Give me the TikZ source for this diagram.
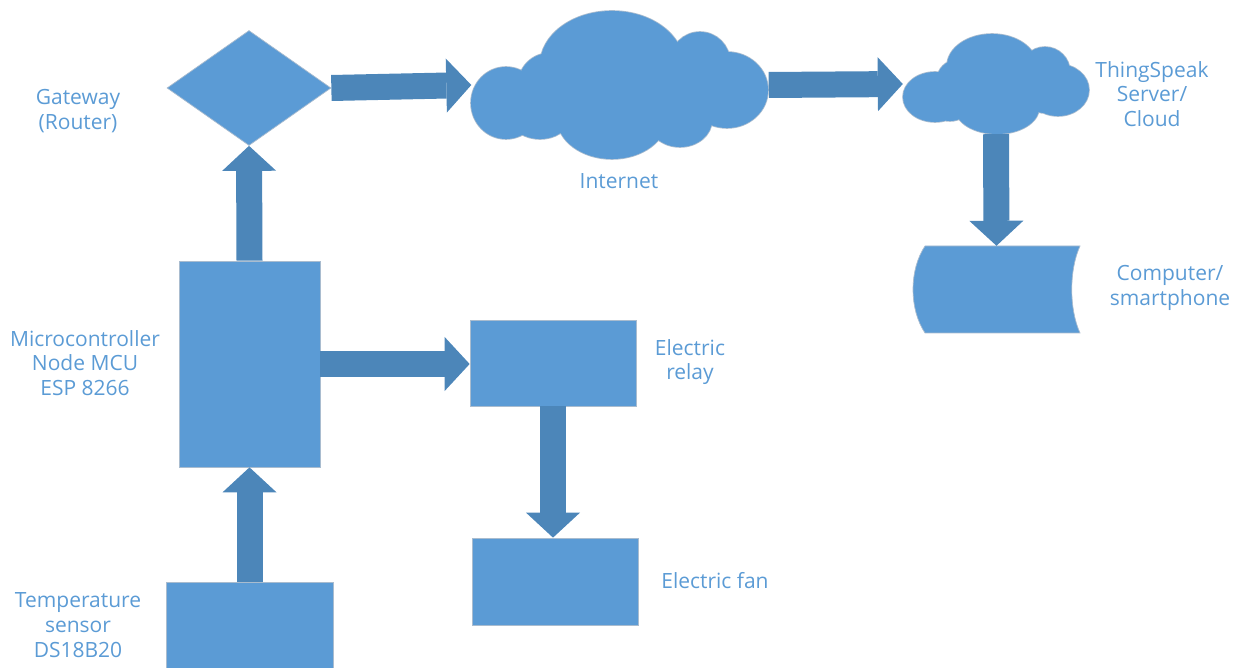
\documentclass[tikz,border=0pt]{standalone}
\usepackage{fontspec}
\setmainfont{Open Sans}
\usetikzlibrary{shapes.geometric,arrows.meta}
\definecolor{boxblue}{HTML}{5B9BD5}
\definecolor{arrowblue}{HTML}{4C86B9}
\definecolor{edgegrey}{HTML}{A9BCCF}
% cloud outlines as unions of ellipses
\def\netcloud{(506,103) ellipse [x radius=35, y radius=36]
  (550,85) circle [radius=32]
  (612,65) ellipse [x radius=72, y radius=54]
  (700,62) circle [radius=30]
  (727,90) ellipse [x radius=41, y radius=38]
  (612,118) ellipse [x radius=55, y radius=41]
  (540,120) ellipse [x radius=28, y radius=19]
  (680,120) ellipse [x radius=32, y radius=27]
  (620,88) ellipse [x radius=100, y radius=45]}
\def\tscloud{(935,97) ellipse [x radius=32, y radius=25]
  (957,80) circle [radius=20]
  (992,66) ellipse [x radius=45, y radius=32]
  (1045,72) circle [radius=25]
  (1058,90) ellipse [x radius=31, y radius=26]
  (997,108) ellipse [x radius=42, y radius=26]
  (950,108) ellipse [x radius=18, y radius=13]
  (1045,98) ellipse [x radius=20, y radius=15]
  (995,90) ellipse [x radius=60, y radius=28]}
\begin{document}
\begin{tikzpicture}[x=1pt,y=-1pt,
  blk/.style={draw=edgegrey, line width=0.7pt, fill=boxblue, inner sep=0pt},
  ghost/.style={inner sep=0pt},
  flow/.style={draw=arrowblue, line width=26pt,
    -{Triangle[length=25pt,width=54pt,line width=0pt]}},
  lbl/.style={text=boxblue, align=center, font=\fontsize{21}{24.8}\selectfont}]
\useasboundingbox (0,0) rectangle (1240,668);
\clip (0,0) rectangle (1240,668);

% clouds
\draw[edgegrey, line width=1.6pt] \netcloud;
\fill[boxblue] \netcloud;
\draw[edgegrey, line width=1.6pt] \tscloud;
\fill[boxblue] \tscloud;
\node[ghost, minimum width=297pt, minimum height=148pt] (net) at (620,85) {};
\node[ghost, minimum width=186pt, minimum height=100pt] (ts) at (996,84) {};

% blocks
\node[blk, diamond, aspect=1.43, minimum width=164pt, minimum height=115pt] (gw) at (249,88) {};
\node[blk, minimum width=141pt, minimum height=206pt] (mcu) at (249.5,364) {};
\node[blk, minimum width=166pt, minimum height=86pt] (relay) at (553,363) {};
\node[blk, minimum width=166pt, minimum height=87pt] (fan) at (555,581.5) {};
\node[blk, minimum width=167pt, minimum height=100pt] (sensor) at (249.5,632) {};

% computer / smartphone (stored-data outline)
\node[ghost, minimum width=167pt, minimum height=87pt] (pc) at (996.5,289.5) {};
\draw[blk] (925,246) -- (1080,246)
  .. controls (1069,270) and (1069,309) .. (1080,333)
  -- (925,333)
  .. controls (909,309) and (909,270) .. (925,246) -- cycle;

% data flow
\draw[flow] (sensor.north) -- (mcu.south);
\draw[flow] (mcu.north) -- (gw.south);
\draw[flow] (gw.east) -- (net.west);
\draw[flow] (net.east) -- (ts.west);
\draw[flow] (ts.south) -- (pc.north);
\draw[flow] (mcu.east) -- (mcu.east -| relay.west);
\draw[flow] (relay.south) -- (relay.south |- fan.north);

% labels
\node[lbl] (lgw) at (78,111) {Gateway\\(Router)};
\node[lbl] (lnet) at (619,181) {Internet};
\node[lbl] (lts) at (1152,94) {ThingSpeak\\Server/\\Cloud};
\node[lbl] (lpc) at (1170,288) {Computer/\\smartphone};
\node[lbl] (lmcu) at (85,363) {Microcontroller\\Node MCU\\ESP 8266};
\node[lbl] (lrelay) at (690,362) {Electric\\relay};
\node[lbl] (lfan) at (715,581) {Electric fan};
\node[lbl] (lsensor) at (78,625) {Temperature\\sensor\\DS18B20};
\end{tikzpicture}
\end{document}
